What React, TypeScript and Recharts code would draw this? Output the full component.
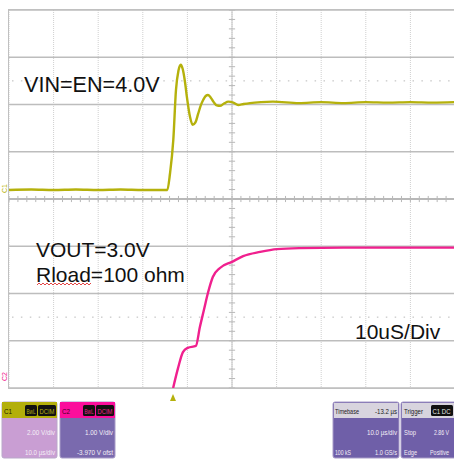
import React from "react";
import { LineChart, Line, XAxis, YAxis, CartesianGrid, ReferenceLine } from "recharts";

// time in microseconds (10 us / div), vertical in divisions (0 = bottom, 8 = top)
const vinTime = [0, 5, 10, 15, 20, 25, 30, 35.5, 36.1, 36.84, 37.44, 38.0, 38.5, 38.95, 39.5, 39.9, 40.58, 41.19, 41.8, 42.4, 43.0, 43.56, 44.1, 44.6, 45.2, 45.9, 46.6, 47.31, 48.2, 49.17, 50.3, 51.41, 52.6, 54.04, 56.5, 59.19, 65, 70, 75, 80, 85, 90, 95, 100];
const vinDiv = [4.19, 4.2, 4.19, 4.2, 4.19, 4.2, 4.19, 4.19, 4.54, 5.25, 6.31, 6.72, 6.84, 6.75, 6.45, 6.15, 5.74, 5.57, 5.62, 5.8, 5.98, 6.1, 6.18, 6.2, 6.15, 6.05, 5.98, 5.97, 6.02, 6.06, 6.04, 5.99, 6.01, 6.03, 6.05, 6.06, 6.03, 6.05, 6.03, 6.05, 6.04, 6.05, 6.04, 6.05];

const voutTime = [36.8, 37.9, 39.0, 40.1, 41.9, 42.8, 43.7, 44.6, 45.7, 47.3, 50.0, 52.5, 56.3, 60.1, 65.2, 75, 85, 99.8];
const voutDiv = [0, 0.42, 0.76, 0.85, 0.89, 1.29, 1.65, 2.01, 2.35, 2.54, 2.67, 2.79, 2.88, 2.94, 2.96, 2.97, 2.97, 2.97];

const xTicks = [0, 10, 20, 30, 40, 50, 60, 70, 80, 90, 100];
const yTicks = [0, 1, 2, 3, 4, 5, 6, 7, 8];
const minorX = Array.from({ length: 51 }, (_, i) => i * 2);
const minorY = Array.from({ length: 41 }, (_, i) => i * 0.2);
const dottedLevels = [6.5, 1.5];

const vinData = vinTime.map((t, i) => ({ t, v: vinDiv[i] }));
const voutData = voutTime.map((t, i) => ({ t, v: voutDiv[i] }));

const YELLOW = "#b5b10c";
const PINK = "#f0208e";
const FONT = "'Liberation Sans', Arial, sans-serif";
const NARROW = "'Liberation Sans Narrow', 'Liberation Sans', Arial, sans-serif";

function Small({ x, y, w, anchor = "start", fill = "#f4eef6", size = 7.5, children }: any) {
  return (
    <text x={x} y={y} fontSize={size} fontFamily={NARROW} fill={fill} textAnchor={anchor} textLength={w} lengthAdjust="spacingAndGlyphs">
      {children}
    </text>
  );
}

export default function App() {
  return (
    <div style={{ position: "absolute", left: 0, top: 0, width: 454, height: 459, overflow: "hidden", background: "#fff" }}>
      <LineChart width={456} height={459} margin={{ left: 9, right: 1, top: 10, bottom: 71 }}>
        <XAxis type="number" dataKey="t" domain={[0, 100]} ticks={xTicks} hide allowDataOverflow />
        <YAxis type="number" domain={[0, 8]} ticks={yTicks} hide allowDataOverflow />
        <CartesianGrid horizontal={false} stroke="#cfcfcf" strokeDasharray="1 1" />
        <CartesianGrid vertical={false} stroke="#bdbdbd" strokeWidth={1.3} />
        {dottedLevels.map((l) => (
          <ReferenceLine key={"d" + l} y={l} stroke="#b8b8b8" strokeDasharray="1.5 7.4" strokeDashoffset={-3} />
        ))}
        <ReferenceLine y={4} stroke="#b0b0b0" strokeWidth={1.4} />
        <ReferenceLine x={50} stroke="#c4c4c4" />
        {minorX.map((t) => (
          <ReferenceLine key={"mx" + t} segment={[{ x: t, y: 3.935 }, { x: t, y: 4.065 }]} stroke="#b8b8b8" />
        ))}
        {minorY.map((d) => (
          <ReferenceLine key={"my" + d} segment={[{ x: 49.3, y: d }, { x: 50.7, y: d }]} stroke="#b8b8b8" />
        ))}
        <Line data={vinData} dataKey="v" type="monotone" stroke={YELLOW} strokeWidth={2.4} dot={false} isAnimationActive={false} />
        <Line data={voutData} dataKey="v" type="monotone" stroke={PINK} strokeWidth={2.4} dot={false} isAnimationActive={false} />
      </LineChart>
      <svg width={454} height={459} style={{ position: "absolute", left: 0, top: 0 }}>
        <rect x={8.5} y={9.5} width={450} height={379} fill="none" stroke="#c0c0c0" />
        <text x={24} y={92} fontSize={21.6} fontFamily={FONT} fill="#111">VIN=EN=4.0V</text>
        <text x={36} y={257} fontSize={21} fontFamily={FONT} fill="#111">VOUT=3.0V</text>
        <text x={36} y={282} fontSize={21} fontFamily={FONT} fill="#111">Rload=100 ohm</text>
        <path d="M37 285 l2 -2 l2 2 l2 -2 l2 2 l2 -2 l2 2 l2 -2 l2 2 l2 -2 l2 2 l2 -2 l2 2 l2 -2 l2 2 l2 -2 l2 2 l2 -2 l2 2 l2 -2 l2 2 l2 -2 l2 2 l2 -2 l2 2 l2 -2 l2 2 l2 -2" fill="none" stroke="#e03030" strokeWidth={0.9} />
        <text x={355} y={339} fontSize={21} fontFamily={FONT} fill="#111">10uS/Div</text>
        {/* channel markers */}
        <text transform="translate(7,193) rotate(-90)" fontSize={7} fontFamily={NARROW} fill={YELLOW}>C1</text>
        <text transform="translate(7,381) rotate(-90)" fontSize={7} fontFamily={NARROW} fill={PINK}>C2</text>
        <path d="M170 401 L173 394 L176 401 Z" fill={YELLOW} />
        {/* C1 box */}
        <rect x={2} y={402} width={55} height={56} rx={2} fill="#c99ed3" stroke="#b9a8c9" />
        <rect x={2} y={402} width={55} height={16} fill="#b3af0b" />
        <Small x={4} y={414} w={8} fill="#1a1a00">C1</Small>
        <rect x={25} y={405} width={12} height={11} rx={1.5} fill="#111" />
        <rect x={38} y={405} width={18} height={11} rx={1.5} fill="#111" />
        <Small x={26.5} y={413.5} w={9} size={6.5} fill={YELLOW}>BwL</Small>
        <Small x={39.5} y={413.5} w={15} size={6.5} fill={YELLOW}>DCIM</Small>
        <Small x={55} y={435} w={28} anchor="end">2.00 V/div</Small>
        <Small x={55} y={455} w={30} anchor="end">10.0 µs/div</Small>
        {/* C2 box */}
        <rect x={60} y={402} width={55} height={56} rx={2} fill="#7a6aae" stroke="#a89cc8" />
        <rect x={60} y={402} width={55} height={16} fill="#fb0e9c" />
        <Small x={62} y={414} w={8} fill="#3a0020">C2</Small>
        <rect x={83} y={405} width={12} height={11} rx={1.5} fill="#111" />
        <rect x={96} y={405} width={18} height={11} rx={1.5} fill="#111" />
        <Small x={84.5} y={413.5} w={9} size={6.5} fill={PINK}>BwL</Small>
        <Small x={97.5} y={413.5} w={15} size={6.5} fill={PINK}>DCIM</Small>
        <Small x={113} y={435} w={28} anchor="end">1.00 V/div</Small>
        <Small x={113} y={455} w={36} anchor="end">-3.970 V ofst</Small>
        {/* Timebase box */}
        <rect x={333} y={402} width={66} height={56} rx={2} fill="#6f5fa8" stroke="#a89cc8" />
        <rect x={334} y={403} width={64} height={15} fill="#d8d4de" />
        <Small x={335} y={414} w={24} fill="#222">Timebase</Small>
        <Small x={397} y={414} w={22} fill="#222" anchor="end">-13.2 µs</Small>
        <Small x={397} y={435} w={30} anchor="end">10.0 µs/div</Small>
        <Small x={335} y={455} w={16}>100 kS</Small>
        <Small x={397} y={455} w={22} anchor="end">1.0 GS/s</Small>
        {/* Trigger box */}
        <rect x={401} y={402} width={60} height={56} rx={2} fill="#6f5fa8" stroke="#a89cc8" />
        <rect x={402} y={403} width={58} height={15} fill="#d8d4de" />
        <Small x={404} y={414} w={19} fill="#222">Trigger</Small>
        <rect x={431} y={405} width={22} height={11} rx={1.5} fill="#111" />
        <Small x={432.5} y={413.5} w={18} size={6.5} fill="#e8e8e8">C1 DC</Small>
        <Small x={404} y={435} w={12}>Stop</Small>
        <Small x={434} y={435} w={15} size={7}>2.86 V</Small>
        <Small x={404} y={455} w={13}>Edge</Small>
        <Small x={430} y={455} w={19} size={7}>Positive</Small>
      </svg>
    </div>
  );
}
